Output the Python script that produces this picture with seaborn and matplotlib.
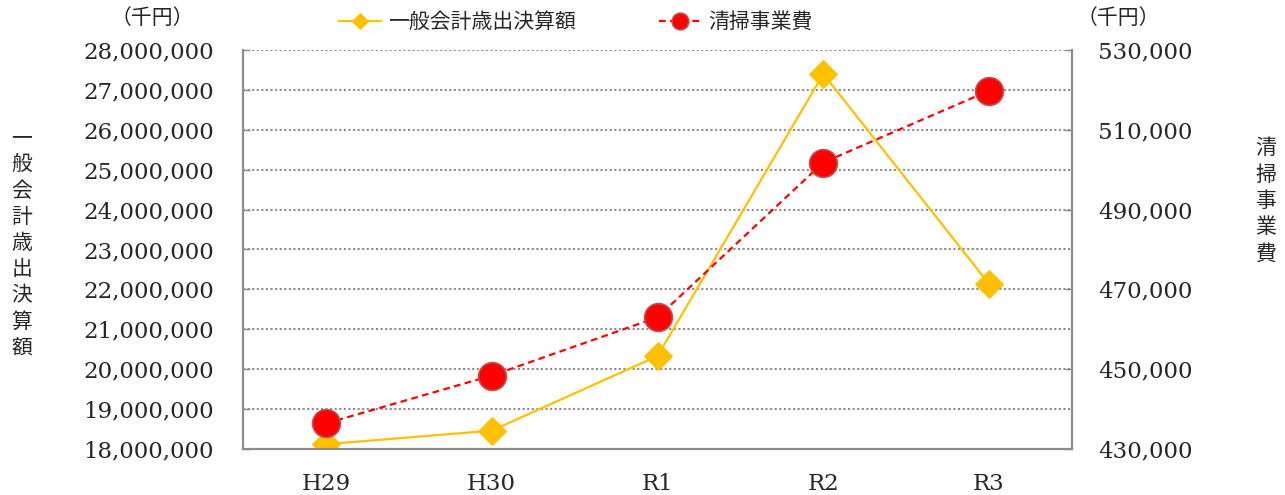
import matplotlib
matplotlib.use("Agg")
import matplotlib.pyplot as plt
import pandas as pd
import numpy as np
import seaborn as sns
from matplotlib.ticker import FixedLocator, FuncFormatter

# 年度別 一般会計歳出決算額 と 清掃事業費 (千円)
years = ["H29", "H30", "R1", "R2", "R3"]
general_account = [18120000, 18460000, 20330000, 27400000, 22135000]
cleaning_cost = [436400, 448400, 463000, 501800, 519800]

left_ticks = list(range(18000000, 28000001, 1000000))
right_ticks = list(range(430000, 530001, 20000))

sns.set_theme(style="white")
plt.rcParams['font.family'] = ['DejaVu Serif', 'Noto Sans CJK JP']
jp = ['Noto Sans CJK JP', 'DejaVu Sans']

df = pd.DataFrame({"pos": np.arange(len(years)), "general": general_account, "cleaning": cleaning_cost})

fig = plt.figure(figsize=(12.85, 4.95), dpi=100)
ax = fig.add_axes([243/1285, 1-449/495, (1072-243)/1285, (449-50)/495])
ax2 = ax.twinx()

sns.lineplot(data=df, x="pos", y="general", ax=ax, color="#FFC000", lw=1.6,
             marker="D", markersize=14, markeredgecolor="#FFC000", label="一般会計歳出決算額", zorder=3)
sns.lineplot(data=df, x="pos", y="cleaning", ax=ax2, color="#FF0000", lw=1.6, linestyle=(0, (3, 2)),
             marker="o", markersize=20, markeredgecolor="#C0504D", markeredgewidth=1.2,
             label="清掃事業費", zorder=3)

h1, l1 = ax.get_legend_handles_labels()
h2, l2 = ax2.get_legend_handles_labels()
ax.get_legend().remove()
ax2.get_legend().remove()
fig.legend(h1 + h2, l1 + l2, loc="center", bbox_to_anchor=(576/1285, 1-22/495), ncol=2,
           frameon=False, markerscale=0.6, handlelength=2.0, handletextpad=0.35,
           columnspacing=4.0, prop={'family': jp, 'size': 15})

ax.set_xlim(-0.5, len(years) - 0.5)
ax.set_ylim(left_ticks[0], left_ticks[-1])
ax2.set_ylim(right_ticks[0], right_ticks[-1])

fmt = FuncFormatter(lambda v, p: f"{int(v):,}")
ax.yaxis.set_major_locator(FixedLocator(left_ticks))
ax.yaxis.set_major_formatter(fmt)
ax2.yaxis.set_major_locator(FixedLocator(right_ticks))
ax2.yaxis.set_major_formatter(fmt)

ax.set_xticks(np.arange(-0.5, len(years)), labels=[""] * (len(years) + 1))
ax.set_xticks(np.arange(len(years)), labels=years, minor=True)
ax.tick_params(axis="x", which="major", direction="in", length=5, color="#888888", width=1)
ax.tick_params(axis="x", which="minor", length=0, pad=17, labelsize=16.5)
ax.tick_params(axis="y", direction="in", length=5, color="#888888", width=1, pad=21, labelsize=16.5, left=True)
ax2.tick_params(axis="y", direction="in", length=5, color="#888888", width=1, pad=19, labelsize=16.5, right=True)

for t in left_ticks:
    ax.axhline(t, color="#8C8C8C", lw=1.5, linestyle=(0, (1, 1.2)), zorder=1)

for a in (ax, ax2):
    for s in ["left", "right", "bottom"]:
        a.spines[s].set_color("#8C8C8C")
        a.spines[s].set_linewidth(1.5)
    a.spines["top"].set_visible(False)
    a.set_xlabel("")
    a.set_ylabel("")

fig.text(152/1285, 1-18/495, "（千円）", ha="center", va="center", family=jp, size=15)
fig.text(1118/1285, 1-18/495, "（千円）", ha="center", va="center", family=jp, size=15)
fig.text(22/1285, 1-243/495, "\n".join("一般会計歳出決算額"), ha="center", va="center",
         family=jp, size=15, linespacing=1.25)
fig.text(1266/1285, 1-201/495, "\n".join("清掃事業費"), ha="center", va="center",
         family=jp, size=15, linespacing=1.25)

fig.savefig("out.png", dpi=100)
